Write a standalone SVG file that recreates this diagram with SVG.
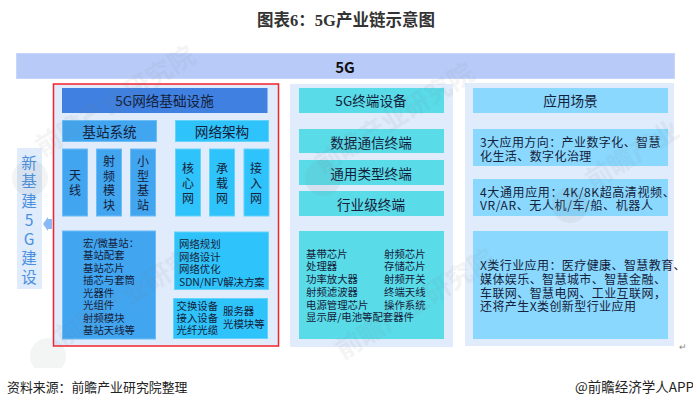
<svg xmlns="http://www.w3.org/2000/svg" width="693" height="408" viewBox="0 0 693 408">
<defs><style>
text{font-family:"Noto Sans CJK SC","Liberation Sans",sans-serif;fill:#14213a;font-size:12px}
.c{text-anchor:middle}
.m{font-size:10.4px}
.l{font-size:12px;letter-spacing:.42px}
.l2{font-size:12px;letter-spacing:.62px}
.h{font-size:13.6px}
.v{font-size:12px;text-anchor:middle}
.y{font-size:15.500px;text-anchor:middle;fill:#4a8fe0}
.p{fill:#e0ebfb}
.a{fill:#42a5f0;stroke:#6cbcf5;stroke-width:1}
.b{fill:#2fc3fb;stroke:#63d3fb;stroke-width:1}
.t{fill:#5adbe8}
.s{fill:#8ad8fe}
.wm{font-size:26px;font-weight:700;fill:#7d828a;opacity:.08}
.wc{fill:#7d828a;opacity:.09}
</style>
<clipPath id="wclip"><rect x="0" y="40" width="693" height="328"/></clipPath>
</defs>
<rect width="693" height="408" fill="#fff"/>
<text id="title" x="346" y="26" class="c" style="font-family:'Liberation Serif','Noto Sans CJK SC',serif;font-size:16.500px;font-weight:700;fill:#333">图表6：5G产业链示意图</text>
<g id="top"><rect x="16.500" y="53.500" width="658" height="25" fill="#b8cbf8" stroke="#c6d6fa"/><text x="345" y="73" class="c" style="font-size:15px;font-weight:700;fill:#111">5G</text></g>
<g id="side"><rect x="17" y="148" width="25" height="141" class="p"/>
<text class="y"><tspan x="29" y="169">新</tspan><tspan x="29" y="187">基</tspan><tspan x="29" y="207">建</tspan><tspan x="29" y="226">5</tspan><tspan x="29" y="245">G</tspan><tspan x="29" y="264">建</tspan><tspan x="29" y="283">设</tspan></text></g>
<g id="connectors"><polygon points="43,224 48,217 48,219 52,219 52,229 48,229 48,231" fill="#8ab8f5"/></g>
<g id="infra"><rect x="53.500" y="84" width="225" height="262" class="p" stroke="#f5222d" stroke-width="1.500"/>
<rect x="62" y="88" width="205.500" height="25" fill="#3f80e0"/><text x="164.500" y="106" class="c h">5G网络基础设施</text></g>
<g id="base">
<rect x="62.500" y="120.500" width="94" height="21" class="a"/><text x="109.500" y="137" class="c h">基站系统</text>
<rect x="62.500" y="149" width="25" height="67" class="a"/><text class="v"><tspan x="75" y="180">天</tspan><tspan x="75" y="195">线</tspan></text>
<rect x="96.500" y="149" width="25" height="67" class="a"/><text class="v"><tspan x="109" y="166">射</tspan><tspan x="109" y="181">频</tspan><tspan x="109" y="195">模</tspan><tspan x="109" y="210">块</tspan></text>
<rect x="130.500" y="149" width="25" height="67" class="a"/><text class="v"><tspan x="143" y="166">小</tspan><tspan x="143" y="181">型</tspan><tspan x="143" y="195">基</tspan><tspan x="143" y="210">站</tspan></text>
<rect x="62.500" y="231" width="93" height="108" class="a"/>
<text class="m"><tspan x="83" y="247">宏/微基站：</tspan><tspan x="83" y="259">基站配套</tspan><tspan x="83" y="271.500">基站芯片</tspan><tspan x="83" y="284">插芯与套筒</tspan><tspan x="83" y="297">光器件</tspan><tspan x="83" y="309">光组件</tspan><tspan x="83" y="322">射频模块</tspan><tspan x="83" y="334">基站天线等</tspan></text>
</g>
<g id="arch">
<rect x="175.500" y="120.500" width="93" height="21" class="b"/><text x="222" y="137" class="c h">网络架构</text>
<rect x="175.500" y="149" width="25" height="67" class="b"/><text class="v"><tspan x="188" y="173">核</tspan><tspan x="188" y="188">心</tspan><tspan x="188" y="203">网</tspan></text>
<rect x="209.500" y="149" width="25" height="67" class="b"/><text class="v"><tspan x="222" y="173">承</tspan><tspan x="222" y="188">载</tspan><tspan x="222" y="203">网</tspan></text>
<rect x="244" y="149" width="25" height="67" class="b"/><text class="v"><tspan x="256" y="173">接</tspan><tspan x="256" y="188">入</tspan><tspan x="256" y="203">网</tspan></text>
<rect x="174.500" y="232" width="94" height="57.500" class="b"/>
<text class="m"><tspan x="179" y="248">网络规划</tspan><tspan x="179" y="261">网络设计</tspan><tspan x="179" y="273">网络优化</tspan><tspan x="179" y="286">SDN/NFV解决方案</tspan></text>
<rect x="173.500" y="298.500" width="94" height="40" class="b"/>
<text class="m"><tspan x="176.500" y="309.500">交换设备</tspan><tspan x="176.500" y="322">接入设备</tspan><tspan x="176.500" y="334">光纤光缆</tspan></text>
<text class="m"><tspan x="223" y="315">服务器</tspan><tspan x="223" y="328">光模块等</tspan></text>
</g>
<g id="terminal"><rect x="290" y="84" width="163" height="263" class="p"/>
<rect x="299" y="88" width="145" height="25" class="t"/><text x="371" y="106" class="c h">5G终端设备</text>
<rect x="299" y="129" width="145" height="24" class="t"/><text x="371" y="148" class="c h">数据通信终端</text>
<rect x="299" y="160" width="145" height="25" class="t"/><text x="371" y="179" class="c h">通用类型终端</text>
<rect x="299" y="191" width="145" height="25" class="t"/><text x="371" y="210" class="c h">行业级终端</text>
<rect x="299" y="231" width="145" height="108" class="t"/>
<text class="m"><tspan x="306" y="257.500">基带芯片</tspan><tspan x="306" y="270">处理器</tspan><tspan x="306" y="283">功率放大器</tspan><tspan x="306" y="296">射频滤波器</tspan><tspan x="306" y="309">电源管理芯片</tspan><tspan x="306" y="321">显示屏/电池等配套器件</tspan></text>
<text class="m"><tspan x="384" y="257.500">射频芯片</tspan><tspan x="384" y="270">存储芯片</tspan><tspan x="384" y="283">射频开关</tspan><tspan x="384" y="296">终端天线</tspan><tspan x="384" y="309">操作系统</tspan></text>
</g>
<g id="apps"><rect x="465" y="83" width="209" height="263" class="p"/>
<rect x="473" y="88" width="195" height="25" class="s"/><text x="570.500" y="106" class="c h">应用场景</text>
<rect x="473" y="129" width="195" height="37" class="s"/><text class="l"><tspan x="480" y="146.500">3大应用方向：产业数字化、智慧</tspan><tspan x="480" y="160.500">化生活、数字化治理</tspan></text>
<rect x="473" y="179" width="195" height="37" class="s"/><text class="l2"><tspan x="480" y="196.500">4大通用应用：4K/8K超高清视频、</tspan><tspan x="480" y="210">VR/AR、无人机/车/船、机器人</tspan></text>
<rect x="473" y="231" width="195" height="108" class="s"/><text class="l"><tspan x="480" y="269.500">X类行业应用：医疗健康、智慧教育、</tspan><tspan x="480" y="283.500">媒体娱乐、智慧城市、智慧金融、</tspan><tspan x="480" y="297.500">车联网、智慧电网、工业互联网，</tspan><tspan x="480" y="311">还将产生X类创新型行业应用</tspan></text></g>
<g id="watermark" clip-path="url(#wclip)">
<circle class="wc" cx="30" cy="178" r="18"/><circle class="wc" cx="48" cy="356" r="18"/><circle class="wc" cx="323" cy="178" r="18"/><circle class="wc" cx="570" cy="205" r="18"/>
<text class="wm" transform="translate(43 157) rotate(-32)">前瞻产业研究院</text>
<text class="wm" transform="translate(63 347) rotate(-32)">前瞻产业研究院</text>
<text class="wm" transform="translate(322 174) rotate(-32)">前瞻产业研究院</text>
<text class="wm" transform="translate(343 360) rotate(-32)">前瞻产业研究院</text>
<text class="wm" transform="translate(593 190) rotate(-32)">前瞻产业</text>
</g>
<text id="source" x="7" y="392" style="font-size:12.900px;fill:#222">资料来源：前瞻产业研究院整理</text>
<text id="credit" x="575" y="392" style="font-size:13.500px;fill:#222">@前瞻经济学人APP</text>
<text id="ret" x="679" y="350" style="font-size:9px;fill:#888">↵</text>
</svg>
